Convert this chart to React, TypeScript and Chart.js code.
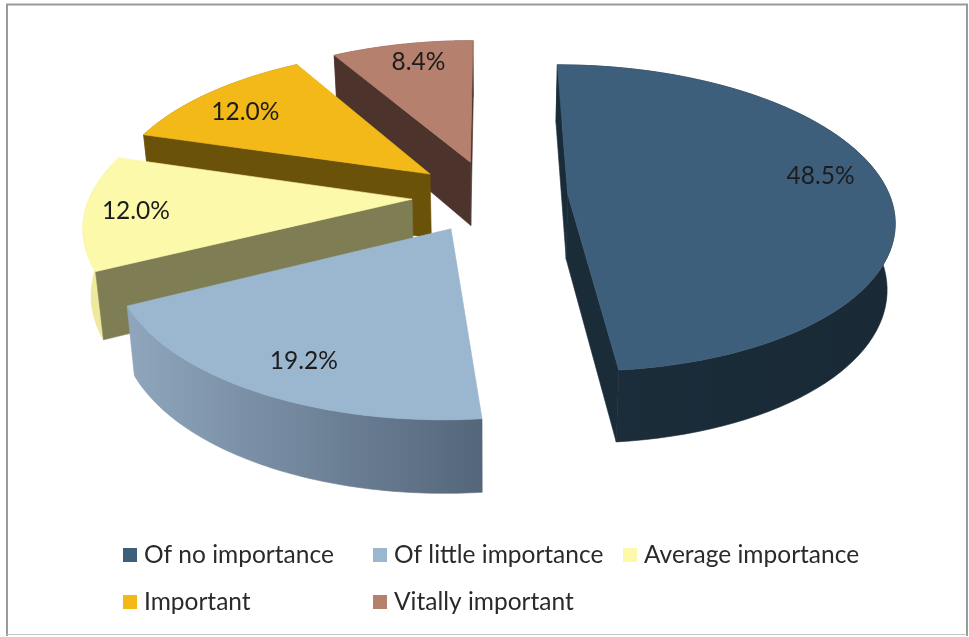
import React, { useEffect, useRef } from "react";
import { Chart, registerables } from "chart.js";

Chart.register(...registerables);

const categories = ["Of no importance", "Of little importance", "Average importance", "Important", "Vitally important"];
const shares = [48.5, 19.2, 12.0, 12.0, 8.4];
const shareLabels = ["48.5%", "19.2%", "12.0%", "12.0%", "8.4%"];
const topColors = ["#3e5f7b", "#9bb6cf", "#fdf9aa", "#f2b919", "#b5806d"];
const sideColors = ["#1b2c39", "#55677a", "#7e7d53", "#6b5209", "#4c332c"];
const wallLeftColors = ["#1c2d3b", "#8fa6bd", "#efe9a0", "#a98210", "#7f5a4c"];
const wallRightColors = ["#192a36", "#54667a", "#efe9a0", "#a98210", "#7f5a4c"];

const FONT = "Lato, 'Open Sans', sans-serif";
const CX = 490, CY = 196, RX = 322, RY = 150, PERSP = 0.155, EXPLODE = 78;

type Pt = { x: number; y: number };
const project = (u: number, v: number): Pt => {
  const w = 1 / (1 - PERSP * v);
  return { x: CX + RX * u * w, y: CY + RY * v * w };
};
const drop = (u: number, v: number): Pt => {
  const p = project(u, v);
  return { x: CX + (p.x - CX) * 0.98, y: p.y + 65 + 7 * v };
};

const pie3d = {
  id: "pie3d",
  beforeDatasetDraw: () => false,
  afterDraw(chart: any) {
    const ctx: CanvasRenderingContext2D = chart.ctx;
    const arcs = chart.getDatasetMeta(0).data as any[];
    ctx.save();

    // frame
    ctx.strokeStyle = "#9a9a9a";
    ctx.lineWidth = 2;
    ctx.beginPath();
    ctx.moveTo(7, 636);
    ctx.lineTo(7, 4.5);
    ctx.lineTo(967, 4.5);
    ctx.lineTo(967, 636);
    ctx.stroke();
    ctx.strokeStyle = "#c8c8c8";
    ctx.lineWidth = 1;
    ctx.beginPath();
    ctx.moveTo(7, 634.5);
    ctx.lineTo(967, 634.5);
    ctx.stroke();

    const slices = arcs.map((el, i) => {
      const mid = (el.startAngle + el.endAngle) / 2;
      const o = (el.options.offset ?? EXPLODE) / RX;
      return { i, el, mid, ox: Math.cos(mid) * o, oy: Math.sin(mid) * o };
    });
    const order = [...slices].sort((a, b) => Math.sin(a.mid) - Math.sin(b.mid));

    const fill = (pts: Pt[], style: any) => {
      ctx.beginPath();
      pts.forEach((p, k) => (k ? ctx.lineTo(p.x, p.y) : ctx.moveTo(p.x, p.y)));
      ctx.closePath();
      ctx.fillStyle = style;
      ctx.fill();
      ctx.strokeStyle = style;
      ctx.lineWidth = 0.6;
      ctx.stroke();
    };

    order.forEach(({ i, el, mid, ox, oy }) => {
      const N = 80;
      const rim: [number, number][] = [];
      for (let k = 0; k <= N; k++) {
        const a = el.startAngle + ((el.endAngle - el.startAngle) * k) / N;
        rim.push([ox + Math.cos(a), oy + Math.sin(a)]);
      }
      const upper = rim.map(([u, v]) => project(u, v));
      const lower = rim.map(([u, v]) => drop(u, v)).reverse();
      const xs = upper.map((p) => p.x);
      const g = ctx.createLinearGradient(Math.min(...xs), 0, Math.max(...xs), 0);
      g.addColorStop(0, wallLeftColors[i]);
      g.addColorStop(1, wallRightColors[i]);
      fill([...upper, ...lower], g);

      // radial walls, only where they face the viewer
      const apex = project(ox, oy);
      const inner = project(ox + 0.6 * Math.cos(mid), oy + 0.6 * Math.sin(mid));
      [rim[0], rim[N]].forEach(([u, v]) => {
        const end = project(u, v);
        const ex = end.x - apex.x;
        const ey = end.y - apex.y;
        const toDown = ex;
        const toInner = ex * (inner.y - apex.y) - ey * (inner.x - apex.x);
        if (toDown * toInner < 0) {
          fill([apex, end, drop(u, v), drop(ox, oy)], sideColors[i]);
        }
      });

      fill([apex, ...upper], topColors[i]);
    });

    // value labels on the top faces
    const nudges = [[-2, -12], [3, 6], [-15, 1], [-5, 4], [4, -3]];
    ctx.fillStyle = "#1c1c1c";
    ctx.font = `24.5px ${FONT}`;
    ctx.textAlign = "center";
    ctx.textBaseline = "middle";
    slices.forEach(({ i, mid, ox, oy }) => {
      const p = project(ox + 0.8 * Math.cos(mid), oy + 0.8 * Math.sin(mid));
      ctx.fillText(shareLabels[i], p.x + nudges[i][0], p.y + nudges[i][1]);
    });

    // legend in aligned columns
    const cols = [123, 373, 623];
    const rows = [548, 595];
    ctx.textAlign = "left";
    ctx.textBaseline = "alphabetic";
    categories.forEach((name, i) => {
      const x = cols[i % 3];
      const y = rows[Math.floor(i / 3)];
      ctx.fillStyle = topColors[i];
      ctx.fillRect(x, y, 14, 14);
      ctx.fillStyle = "#2a2a2a";
      ctx.fillText(name, x + 21, y + 15);
    });
    ctx.restore();
  },
};

export default function App() {
  const ref = useRef<HTMLCanvasElement>(null);
  useEffect(() => {
    const chart = new Chart(ref.current!, {
      type: "pie",
      data: {
        labels: categories,
        datasets: [{ data: shares, backgroundColor: topColors, offset: EXPLODE, borderWidth: 0 }],
      },
      options: {
        responsive: false,
        animation: false,
        plugins: { legend: { display: false }, tooltip: { enabled: false } },
      },
      plugins: [pie3d],
    } as any);
    return () => chart.destroy();
  }, []);
  return (
    <div style={{ position: "absolute", left: 0, top: 0, width: 969, height: 637, background: "#fff", overflow: "hidden" }}>
      <canvas ref={ref} width={969} height={637} style={{ display: "block", filter: "blur(0.4px)" }} />
    </div>
  );
}
